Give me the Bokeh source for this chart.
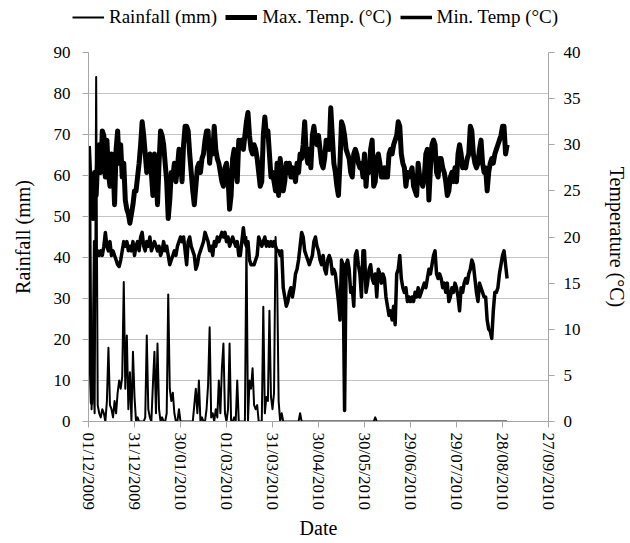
import pandas as pd
from datetime import datetime
from bokeh.plotting import figure
from bokeh.layouts import column
from bokeh.models import (Range1d, LinearAxis, FixedTicker, DatetimeTickFormatter,
                          Legend, LegendItem)
from bokeh.embed import file_html
from bokeh.resources import INLINE

start_date = "2009-12-01"

rainfall = [
    17, 67, 3, 12, 2, 84, 4, 2, 1, 3,
    2, 0, 5, 18, 4, 3, 1, 5, 2, 7,
    10, 8, 11, 34, 8, 21, 3, 12, 0, 17,
    6, 0, 1, 0, 0, 0, 0, 1, 21, 3,
    1, 0, 9, 17, 2, 19, 3, 0, 1, 0,
    0, 2, 31, 8, 5, 7, 2, 0, 0, 3,
    0, 0, 0, 0, 0, 0, 0, 0, 0, 4,
    8, 2, 10, 0, 1, 0, 0, 3, 9, 23,
    1, 2, 0, 3, 1, 10, 2, 13, 19, 2,
    0, 3, 19, 0, 0, 1, 0, 10, 0, 0,
    0, 0, 0, 45, 0, 10, 8, 13, 4, 3,
    4, 0, 0, 0, 28, 2, 6, 5, 27, 6,
    3, 7, 45, 36, 5, 0, 2, 0, 0, 0,
    0, 0, 0, 0, 0, 0, 0, 0, 2, 0,
    0, 0, 0, 0, 0, 0, 0, 0, 0, 0,
    0, 0, 0, 0, 0, 0, 0, 0, 0, 0,
    0, 0, 0, 0, 0, 0, 0, 0, 0, 0,
    0, 0, 0, 0, 0, 0, 0, 0, 0, 0,
    0, 0, 0, 0, 0, 0, 0, 1, 0, 0,
    0, 0, 0, 0, 0, 0, 0, 0, 0, 0,
    0, 0, 0, 0, 0, 0, 0, 0, 0, 0,
    0, 0, 0, 0, 0, 0, 0, 0, 0, 0,
    0, 0, 0, 0, 0, 0, 0, 0, 0, 0,
    0, 0, 0, 0, 0, 0, 0, 0, 0, 0,
    0, 0, 0, 0, 0, 0, 0, 0, 0, 0,
    0, 0, 0, 0, 0, 0, 0, 0, 0, 0,
    0, 0, 0, 0, 0, 0, 0, 0, 0, 0,
    0, 0, 0, 0,
]

max_temp = [
    29.8, 26.0, 25.5, 22.0, 27.0, 24.5, 28.5, 30.0, 27.0, 31.5,
    31.0, 26.5, 30.5, 27.0, 25.5, 29.0, 28.0, 23.5, 29.5, 31.5,
    28.0, 30.0, 26.5, 28.0, 24.0, 23.0, 22.5, 21.5, 22.5, 23.5,
    25.0, 25.0, 26.5, 28.0, 30.0, 32.5, 31.0, 29.0, 27.0, 28.5,
    29.0, 27.0, 24.5, 29.0, 27.5, 23.5, 28.0, 31.5, 31.0, 30.0,
    28.0, 26.0, 22.0, 24.0, 27.0, 26.5, 28.0, 26.0, 27.5, 29.5,
    28.5, 26.0, 30.0, 32.0, 32.0, 31.5, 29.0, 27.0, 25.0, 23.5,
    25.5, 27.5, 28.0, 27.0, 28.5, 29.0, 30.5, 31.5, 31.5, 28.0,
    30.0, 29.0, 32.0, 29.5, 28.5, 28.0, 27.0, 26.0, 25.5, 27.5,
    28.0, 26.5, 23.0, 24.5, 28.5, 29.5, 28.0, 26.0, 30.5, 30.0,
    30.5, 29.5, 31.0, 32.5, 33.5, 31.0, 29.5, 29.0, 30.0, 29.5,
    28.5, 27.0, 25.5, 26.0, 31.0, 33.0, 31.0, 31.5, 29.0, 26.5,
    27.0, 26.0, 25.0, 28.0, 24.5, 28.5, 27.0, 25.0, 26.0, 28.0,
    27.0, 28.0, 26.5, 27.5, 27.0, 26.0, 28.0, 27.0, 29.0, 28.5,
    30.0, 32.5, 29.0, 28.0, 29.5, 27.5, 31.0, 32.0, 30.5, 30.0,
    31.0, 29.5, 28.0, 27.5, 28.5, 30.5, 30.0, 29.5, 34.0, 31.0,
    28.0, 27.0, 25.5, 24.5, 28.0, 32.5, 32.0, 31.0, 29.5, 29.0,
    28.5, 27.0, 26.5, 29.0, 29.5, 29.0, 28.0, 27.5, 28.0, 26.5,
    29.0, 25.5, 28.0, 27.0, 29.5, 30.5, 25.5, 26.0, 28.5, 29.0,
    28.0, 26.5, 26.5, 27.5, 26.5, 26.5, 29.0, 29.5, 29.0, 30.0,
    30.5, 31.0, 32.5, 32.0, 29.0, 28.0, 27.5, 25.5, 27.0, 26.5,
    27.0, 27.5, 25.5, 25.0, 24.5, 28.0, 26.5, 26.0, 25.5, 26.5,
    29.0, 29.5, 24.0, 27.5, 30.0, 30.5, 30.0, 27.0, 26.5, 28.5,
    28.5, 27.5, 27.0, 26.0, 24.5, 25.0, 26.5, 27.0, 26.0, 27.5,
    26.0, 29.0, 30.0, 29.0, 27.5, 28.0, 27.5, 28.5, 29.0, 32.0,
    31.5, 29.0, 28.0, 27.5, 28.0, 29.5, 30.5, 28.0, 27.0, 27.5,
    25.0, 27.0, 28.0, 28.5, 28.0, 29.0, 29.5, 30.0, 30.5, 31.0,
    32.0, 32.0, 29.0, 30.0,
]

min_temp = [
    19.0, 8.0, 2.0, 3.5, 19.5, 18.0, 18.5, 18.0, 18.5, 18.0,
    19.0, 20.5, 19.0, 18.5, 19.5, 18.0, 18.5, 18.0, 17.5, 17.0,
    16.8, 17.5, 18.5, 19.5, 19.0, 19.5, 18.5, 19.0, 18.5, 19.5,
    18.0, 19.0, 19.5, 18.5, 20.0, 20.5, 19.0, 18.5, 19.5, 19.0,
    20.0, 18.5, 19.0, 19.5, 19.0, 18.5, 19.0, 18.0, 18.5, 19.5,
    18.5, 19.0, 18.0, 17.0, 17.5, 18.0, 18.5, 18.0, 19.0, 19.5,
    20.0, 19.5, 20.0, 18.5, 17.0, 19.5, 20.0, 19.0, 18.5, 18.0,
    16.5, 17.0, 18.0, 18.5, 19.0, 19.5, 20.5, 20.0, 19.5, 18.5,
    19.0, 18.0, 19.5, 19.0, 20.0, 19.5, 20.0, 20.5, 20.0, 20.5,
    19.5, 20.0, 19.0, 19.5, 20.0, 19.5, 19.0, 19.5, 18.0, 18.0,
    19.5, 21.0, 19.5, 19.0, 19.5, 17.5, 17.0, 17.0, 17.0, 17.5,
    18.0, 20.0, 19.5, 19.0, 19.5, 20.0, 19.0, 19.5, 19.0, 19.5,
    19.0, 19.5, 19.0, 18.5, 18.5, 18.0, 18.5, 14.5, 13.5, 12.5,
    13.0, 14.0, 14.5, 13.5, 14.5, 16.0, 16.5, 17.5, 19.0, 20.5,
    20.0, 18.5, 18.0, 17.5, 17.0, 17.5, 18.0, 19.5, 20.0, 19.0,
    18.5, 17.5, 17.0, 18.0, 16.5, 16.0, 17.5, 18.0, 17.5, 16.0,
    16.5, 16.0, 14.5, 13.0, 11.0, 17.5, 17.0, 1.2, 17.0, 17.5,
    16.5, 14.0, 14.5, 12.5, 18.0, 18.5, 17.0, 16.0, 13.5, 18.5,
    18.5, 14.0, 15.0, 16.5, 17.0, 15.5, 15.0, 16.0, 13.5, 16.5,
    16.0, 15.0, 16.0, 15.5, 13.5, 12.5, 11.5, 12.0, 11.0, 12.5,
    10.5, 16.0, 16.5, 18.0, 15.5, 14.5, 14.0, 14.5, 13.0, 13.5,
    13.0, 13.5, 13.0, 14.0, 13.5, 14.5, 13.5, 14.0, 14.5, 15.0,
    14.5, 15.5, 16.5, 16.0, 17.0, 18.0, 18.5, 16.0, 15.5, 16.0,
    15.5, 14.5, 15.0, 14.0, 15.0, 13.0, 13.5, 14.5, 14.0, 15.0,
    14.5, 13.5, 12.0, 14.5, 14.0, 15.0, 15.5, 15.0, 16.0, 16.5,
    17.5, 17.0, 15.5, 14.0, 13.0, 15.0, 14.5, 14.0, 13.5, 13.5,
    11.0, 10.0, 9.8, 9.0, 12.0, 14.0, 14.0, 14.5, 16.0, 17.0,
    18.0, 18.5, 17.0, 15.5,
]

series_names = ["Rainfall (mm)", "Max. Temp. (°C)", "Min. Temp (°C)"]
date_ticks = ["01/12/2009", "31/12/2009", "30/01/2010", "01/03/2010", "31/03/2010",
              "30/04/2010", "30/05/2010", "29/06/2010", "29/07/2010", "28/08/2010",
              "27/09/2010"]
rain_ticks = [0, 10, 20, 30, 40, 50, 60, 70, 80, 90]
temp_ticks = [0, 5, 10, 15, 20, 25, 30, 35, 40]

dates = pd.date_range(start_date, periods=len(rainfall), freq="D")
tick_dt = [datetime.strptime(s, "%d/%m/%Y") for s in date_ticks]
tick_ms = [pd.Timestamp(t).value / 1e6 for t in tick_dt]

FONT = "Liberation Serif"
AXIS_C = "#a6a6a6"
GRID_C = "#c4c4c4"
WIDTHS = [2, 5, 3.5]
LEG_H = 44

# ---------- main chart ----------
p = figure(width=630, height=543 - LEG_H, x_axis_type="datetime",
           x_range=Range1d(tick_dt[0], tick_dt[-1]),
           y_range=Range1d(rain_ticks[0], rain_ticks[-1]),
           output_backend="svg", toolbar_location=None,
           min_border_left=88, min_border_right=82, min_border_top=52 - LEG_H,
           min_border_bottom=122)
p.frame_align = False
p.extra_y_ranges = {"temp": Range1d(temp_ticks[0], temp_ticks[-1])}
p.outline_line_color = None
p.background_fill_color = "white"
p.xgrid.visible = False
p.ygrid.grid_line_color = GRID_C
p.ygrid.grid_line_width = 1

p.line(dates, rainfall, line_color="black", line_width=WIDTHS[0], line_join="round")
p.line(dates, min_temp, line_color="black", line_width=WIDTHS[2], line_join="round",
       y_range_name="temp")
p.line(dates, max_temp, line_color="black", line_width=WIDTHS[1], line_join="round",
       y_range_name="temp")

def style(ax):
    ax.axis_line_color = AXIS_C
    ax.major_tick_line_color = AXIS_C
    ax.major_tick_out = 6
    ax.major_tick_in = 0
    ax.minor_tick_line_color = None
    ax.major_label_text_font = FONT
    ax.major_label_text_font_size = "17px"
    ax.major_label_text_color = "black"
    ax.axis_label_text_font = FONT
    ax.axis_label_text_font_size = "20px"
    ax.axis_label_text_font_style = "normal"
    ax.axis_label_text_color = "black"
    ax.major_label_standoff = 9

xa = p.xaxis[0]
style(xa)
xa.ticker = FixedTicker(ticks=tick_ms)
fmt = "%d/%m/%Y"
xa.formatter = DatetimeTickFormatter(days=fmt, months=fmt, years=fmt, hours=fmt,
                                     minutes=fmt, seconds=fmt, milliseconds=fmt,
                                     minsec=fmt, hourmin=fmt)
xa.major_label_orientation = "vertical"
xa.major_label_standoff = 5
xa.axis_label = "Date"
xa.axis_label_standoff = 4

ya = p.yaxis[0]
style(ya)
ya.ticker = FixedTicker(ticks=rain_ticks)
ya.major_label_standoff = 12
ya.axis_label = "Rainfall (mm)"
ya.axis_label_standoff = 17

ra = LinearAxis(y_range_name="temp", ticker=FixedTicker(ticks=temp_ticks),
                axis_label="Temperature (°C)")
style(ra)
ra.major_label_standoff = 9
ra.axis_label_standoff = 22
ra.axis_label_orientation = "vertical"
p.add_layout(ra, "right")

# ---------- legend strip ----------
lg = figure(width=630, height=LEG_H, x_range=Range1d(0, 1), y_range=Range1d(0, 1),
            output_backend="svg", toolbar_location=None,
            x_axis_location=None, y_axis_location=None, min_border=0)
lg.frame_align = False
lg.outline_line_color = None
lg.xgrid.visible = False
lg.ygrid.visible = False
items = []
for name, w in zip(series_names, WIDTHS):
    r = lg.line([float("nan")], [float("nan")], line_color="black", line_width=w)
    items.append(LegendItem(label=name, renderers=[r]))
legend = Legend(items=items, orientation="horizontal", location=(72, 16),
                border_line_color=None, background_fill_alpha=0,
                label_text_font=FONT, label_text_font_size="19px",
                label_text_color="black",
                glyph_width=32, glyph_height=20, label_height=20,
                label_standoff=5, spacing=8, padding=0, margin=0)
lg.add_layout(legend, "center")

layout = column(lg, p, spacing=0)
open("out.html", "w").write(file_html(layout, INLINE))
